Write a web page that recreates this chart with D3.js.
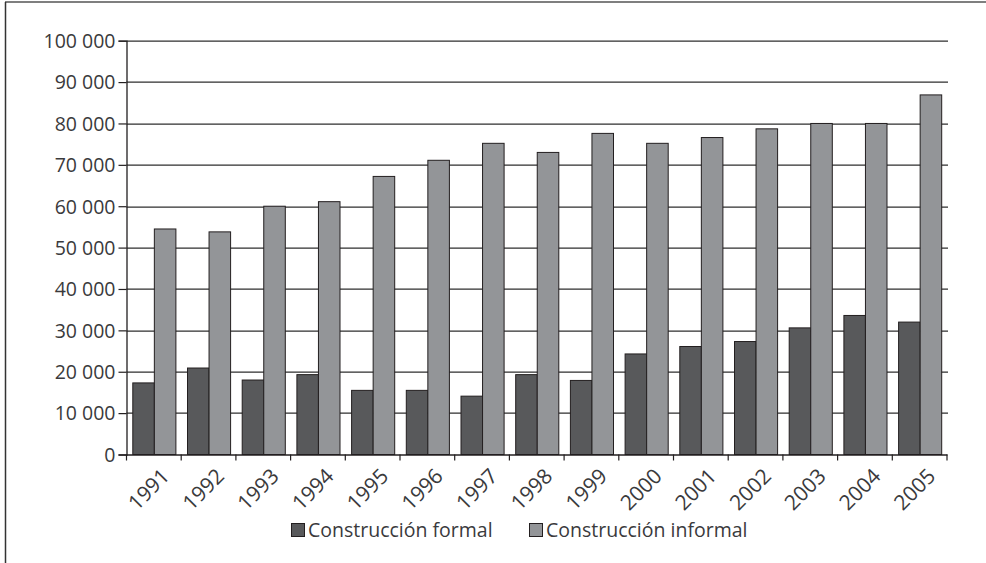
<!DOCTYPE html>
<html>
<head>
<meta charset="utf-8">
<script src="https://cdn.jsdelivr.net/npm/d3@7"></script>
<style>
	body { margin: 0; background: #fff; }
	svg text { font-family: 'Open Sans', 'Noto Sans', sans-serif; fill: #3a3a3c; }
</style>
</head>
<body>
<div id="chart"></div>
<script>
var years = ['1991', '1992', '1993', '1994', '1995', '1996', '1997', '1998',
	'1999', '2000', '2001', '2002', '2003', '2004', '2005'];
var formal = [17300, 20900, 18000, 19300, 15500, 15500, 14100, 19300,
	17900, 24300, 26100, 27300, 30600, 33600, 32000];
var informal = [54500, 53800, 60000, 61100, 67200, 71100, 75200, 73000,
	77600, 75200, 76600, 78700, 80000, 80000, 86900];
var seriesNames = ['Construcción formal', 'Construcción informal'];
var yTicks = [0, 10000, 20000, 30000, 40000, 50000, 60000, 70000, 80000, 90000, 100000];

var W = 986, H = 563;
var margin = {top: 40.7, right: 39, bottom: 108.5, left: 126.5};
var width = W - margin.left - margin.right;
var height = H - margin.top - margin.bottom;
var colors = ['#58595b', '#939598'];

var root = d3.select('#chart')
	.append('svg')
	.attr('width', W)
	.attr('height', H);

// frame (top and left edges only, as cropped in the source)
root.append('line')
	.attr('x1', 5).attr('x2', W).attr('y1', 2).attr('y2', 2)
	.style('stroke', '#555').style('stroke-width', 1.5);
root.append('line')
	.attr('x1', 5.5).attr('x2', 5.5).attr('y1', 2).attr('y2', H)
	.style('stroke', '#333').style('stroke-width', 1.5);

var svg = root.append('g')
	.attr('transform', 'translate(' + margin.left + ',' + margin.top + ')');

var x = d3.scaleBand().domain(years).range([0, width]).paddingInner(0).paddingOuter(0);
var inner = d3.scaleBand().domain([0, 1]).range([6.3, x.bandwidth() - 5.3]);
var y = d3.scaleLinear().domain([0, 100000]).range([height, 0]);

var fmt = function(d) {
	return d3.format(',')(d).replace(/,/g, ' ');
};

// grid
svg.append('g')
	.selectAll('line')
	.data(yTicks.filter(function(d) { return d > 0; }))
	.enter()
	.append('line')
	.attr('x1', 0)
	.attr('x2', width + 1)
	.attr('y1', function(d) { return Math.round(y(d)) + 0.5; })
	.attr('y2', function(d) { return Math.round(y(d)) + 0.5; })
	.style('stroke', '#2e2e2e')
	.style('stroke-width', 1.3);

// bars
var data = years.map(function(yr, i) {
	return {year: yr, values: [formal[i], informal[i]]};
});

var groups = svg.selectAll('.grp')
	.data(data)
	.enter()
	.append('g')
	.attr('transform', function(d) { return 'translate(' + x(d.year) + ',0)'; });

groups.selectAll('rect')
	.data(function(d) { return d.values; })
	.enter()
	.append('rect')
	.attr('x', function(d, i) { return inner(i); })
	.attr('width', inner.bandwidth())
	.attr('y', function(d) { return y(d); })
	.attr('height', function(d) { return height - y(d); })
	.style('fill', function(d, i) { return colors[i]; })
	.style('stroke', '#231f20')
	.style('stroke-width', 1);

// y axis
var yAxis = svg.append('g')
	.call(d3.axisLeft(y)
		.tickValues(yTicks)
		.tickSize(8)
		.tickPadding(3)
		.tickFormat(fmt));
yAxis.select('.domain').style('stroke', '#231f20').style('stroke-width', 1.3);
yAxis.selectAll('.tick line').style('stroke', '#231f20').style('stroke-width', 1.2);
yAxis.selectAll('text')
	.style('font-size', '19.5px')
	.attr('dy', '0.35em');

// x axis
var xAxis = svg.append('g')
	.attr('transform', 'translate(0,' + height + ')')
	.call(d3.axisBottom(x).tickSize(0).tickPadding(0));
xAxis.select('.domain').style('stroke', '#231f20').style('stroke-width', 1.3);
xAxis.selectAll('.tick text')
	.style('font-size', '21px')
	.style('text-anchor', 'end')
	.attr('dy', '0')
	.attr('transform', 'translate(' + 17 + ',' + 23 + ') rotate(-45)');

// tick marks on band boundaries
svg.append('g')
	.selectAll('line')
	.data(years.concat(['end']))
	.enter()
	.append('line')
	.attr('x1', function(d, i) { return i * x.step(); })
	.attr('x2', function(d, i) { return i * x.step(); })
	.attr('y1', height)
	.attr('y2', height + 6)
	.style('stroke', '#231f20')
	.style('stroke-width', 1.2);

// legend
var legendItems = [
	{name: seriesNames[0], color: colors[0], x: 291},
	{name: seriesNames[1], color: colors[1], x: 529}
];
var legend = root.append('g');
legendItems.forEach(function(d) {
	legend.append('rect')
		.attr('x', d.x + 0.5)
		.attr('y', 523.5)
		.attr('width', 13)
		.attr('height', 13)
		.style('fill', d.color)
		.style('stroke', '#231f20')
		.style('stroke-width', 1);
	legend.append('text')
		.attr('x', d.x + 17)
		.attr('y', 537)
		.style('font-size', '19.5px')
		.text(d.name);
});
</script>
</body>
</html>
